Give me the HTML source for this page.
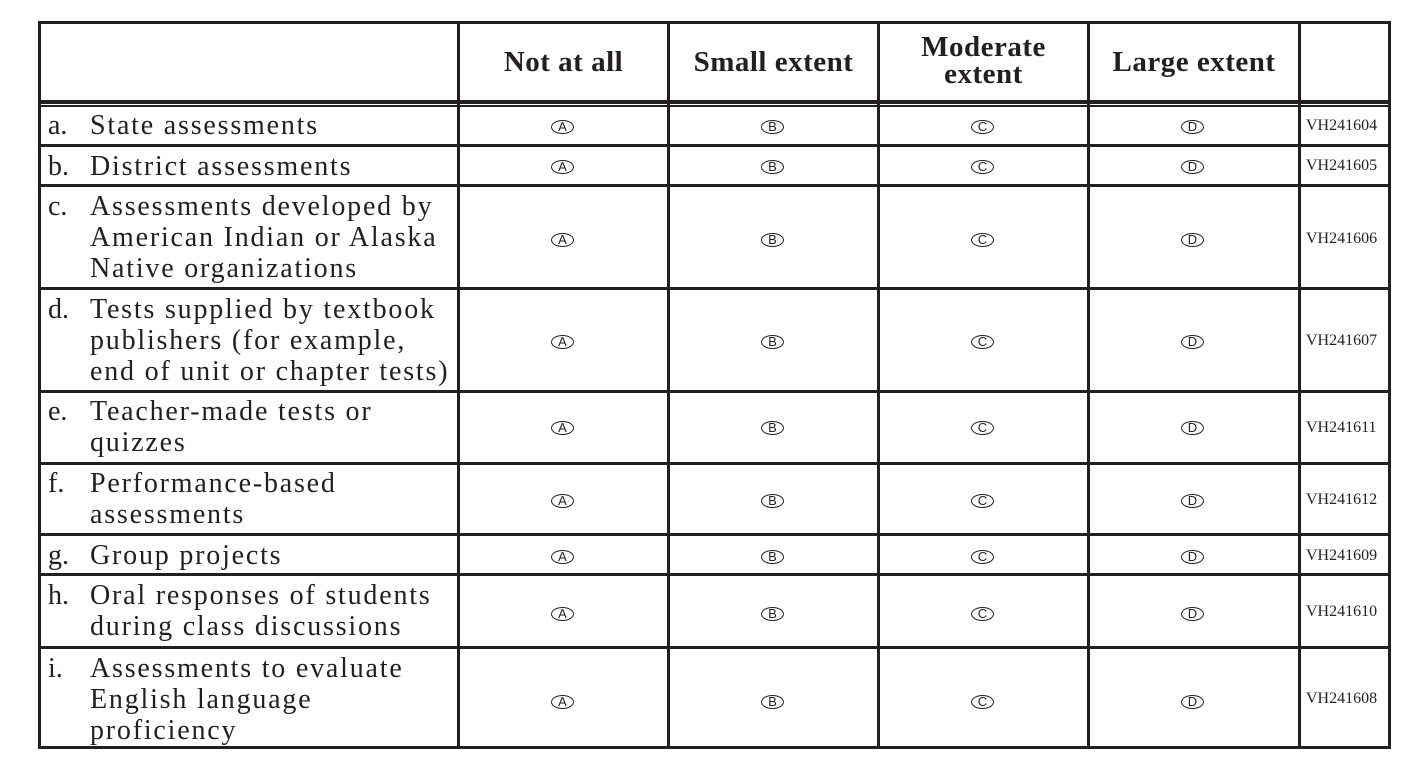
<!DOCTYPE html>
<html>
<head>
<meta charset="utf-8">
<style>
  html, body { margin:0; padding:0; background:#fff; }
  body { width:1413px; height:767px; position:relative; overflow:hidden; }
  .h { position:absolute; background:#231f20; left:38px; width:1353px; height:3px; }
  .v { position:absolute; background:#231f20; top:21px; width:3px; height:728px; }
  .hd { position:absolute; font-family:"Liberation Serif", serif; font-weight:bold; font-size:29px; line-height:29px; color:#231f20; text-align:center; white-space:nowrap; letter-spacing:0.5px; }
  .lt { position:absolute; left:48px; font-family:"Liberation Serif", serif; font-size:28px; line-height:31px; color:#231f20; white-space:nowrap; }
  .tx { position:absolute; left:90px; font-family:"Liberation Serif", serif; font-size:28px; line-height:31px; color:#231f20; white-space:nowrap; letter-spacing:1.8px; }
  .bb { position:absolute; width:21px; height:12px; border:1.8px solid #231f20; border-radius:50%; font-family:"Liberation Sans", sans-serif; font-size:13px; line-height:12px; text-align:center; color:#231f20; }
  .cd { position:absolute; left:1306px; font-family:"Liberation Serif", serif; font-size:16px; line-height:16px; color:#231f20; white-space:nowrap; }
</style>
</head>
<body>
<!-- horizontal lines -->
<div class="h" style="top:21px"></div>
<div class="h" style="top:100px;height:3.5px"></div>
<div class="h" style="top:105px;height:2px"></div>
<div class="h" style="top:144px"></div>
<div class="h" style="top:184px"></div>
<div class="h" style="top:287px"></div>
<div class="h" style="top:390px"></div>
<div class="h" style="top:462px"></div>
<div class="h" style="top:533px"></div>
<div class="h" style="top:573px"></div>
<div class="h" style="top:646px"></div>
<div class="h" style="top:746px"></div>
<!-- vertical lines -->
<div class="v" style="left:38px"></div>
<div class="v" style="left:457px"></div>
<div class="v" style="left:667px"></div>
<div class="v" style="left:877px"></div>
<div class="v" style="left:1087px"></div>
<div class="v" style="left:1298px"></div>
<div class="v" style="left:1388px"></div>

<!-- header -->
<div class="hd" style="left:460px;width:207px;top:48px">Not at all</div>
<div class="hd" style="left:670px;width:207px;top:48px">Small extent</div>
<div class="hd" style="left:880px;width:207px;top:33px">Moderate</div>
<div class="hd" style="left:880px;width:207px;top:60px">extent</div>
<div class="hd" style="left:1090px;width:208px;top:48px">Large extent</div>

<!-- row labels -->
<div class="lt" style="top:110px">a.</div>
<div class="tx" style="top:110px">State assessments</div>

<div class="lt" style="top:151px">b.</div>
<div class="tx" style="top:151px">District assessments</div>

<div class="lt" style="top:191px">c.</div>
<div class="tx" style="top:191px">Assessments developed by<br>American Indian or Alaska<br>Native organizations</div>

<div class="lt" style="top:294px">d.</div>
<div class="tx" style="top:294px">Tests supplied by textbook<br>publishers (for example,<br>end of unit or chapter tests)</div>

<div class="lt" style="top:396px">e.</div>
<div class="tx" style="top:396px">Teacher-made tests or<br>quizzes</div>

<div class="lt" style="top:468px">f.</div>
<div class="tx" style="top:468px">Performance-based<br>assessments</div>

<div class="lt" style="top:540px">g.</div>
<div class="tx" style="top:540px">Group projects</div>

<div class="lt" style="top:580px">h.</div>
<div class="tx" style="top:580px">Oral responses of students<br>during class discussions</div>

<div class="lt" style="top:653px">i.</div>
<div class="tx" style="top:653px">Assessments to evaluate<br>English language<br>proficiency</div>

<!-- bubbles -->
<div class="bb" style="left:551px;top:120px">A</div><div class="bb" style="left:761px;top:120px">B</div><div class="bb" style="left:971px;top:120px">C</div><div class="bb" style="left:1181px;top:120px">D</div>
<div class="bb" style="left:551px;top:160px">A</div><div class="bb" style="left:761px;top:160px">B</div><div class="bb" style="left:971px;top:160px">C</div><div class="bb" style="left:1181px;top:160px">D</div>
<div class="bb" style="left:551px;top:233px">A</div><div class="bb" style="left:761px;top:233px">B</div><div class="bb" style="left:971px;top:233px">C</div><div class="bb" style="left:1181px;top:233px">D</div>
<div class="bb" style="left:551px;top:335px">A</div><div class="bb" style="left:761px;top:335px">B</div><div class="bb" style="left:971px;top:335px">C</div><div class="bb" style="left:1181px;top:335px">D</div>
<div class="bb" style="left:551px;top:421px">A</div><div class="bb" style="left:761px;top:421px">B</div><div class="bb" style="left:971px;top:421px">C</div><div class="bb" style="left:1181px;top:421px">D</div>
<div class="bb" style="left:551px;top:494px">A</div><div class="bb" style="left:761px;top:494px">B</div><div class="bb" style="left:971px;top:494px">C</div><div class="bb" style="left:1181px;top:494px">D</div>
<div class="bb" style="left:551px;top:550px">A</div><div class="bb" style="left:761px;top:550px">B</div><div class="bb" style="left:971px;top:550px">C</div><div class="bb" style="left:1181px;top:550px">D</div>
<div class="bb" style="left:551px;top:607px">A</div><div class="bb" style="left:761px;top:607px">B</div><div class="bb" style="left:971px;top:607px">C</div><div class="bb" style="left:1181px;top:607px">D</div>
<div class="bb" style="left:551px;top:695px">A</div><div class="bb" style="left:761px;top:695px">B</div><div class="bb" style="left:971px;top:695px">C</div><div class="bb" style="left:1181px;top:695px">D</div>

<!-- codes -->
<div class="cd" style="top:118px">VH241604</div>
<div class="cd" style="top:158px">VH241605</div>
<div class="cd" style="top:231px">VH241606</div>
<div class="cd" style="top:333px">VH241607</div>
<div class="cd" style="top:420px">VH241611</div>
<div class="cd" style="top:492px">VH241612</div>
<div class="cd" style="top:548px">VH241609</div>
<div class="cd" style="top:604px">VH241610</div>
<div class="cd" style="top:691px">VH241608</div>
</body>
</html>
